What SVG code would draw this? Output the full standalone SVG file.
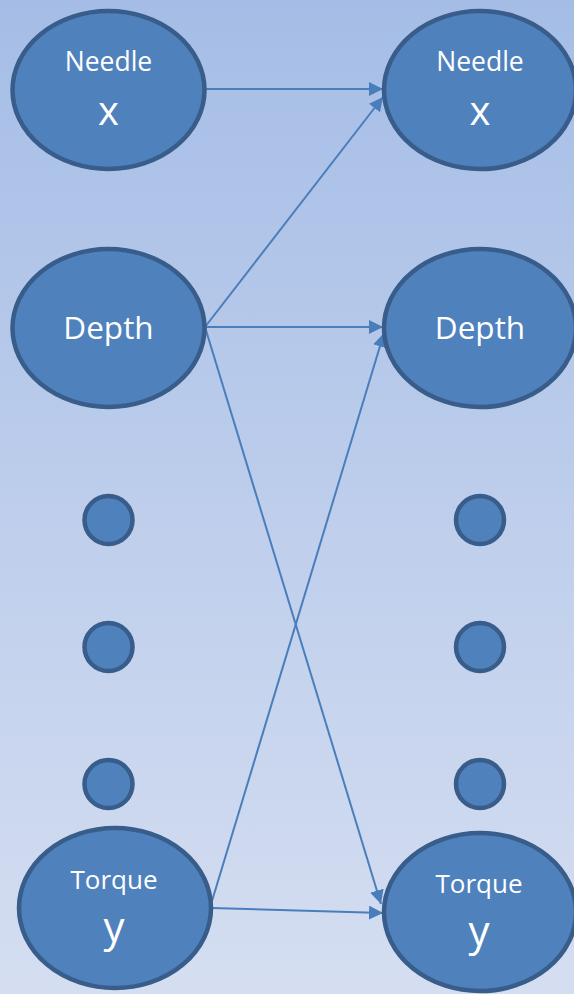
<svg xmlns="http://www.w3.org/2000/svg" width="574" height="994" viewBox="0 0 574 994">
<defs>
<linearGradient id="bg" x1="0" y1="0" x2="0" y2="1">
<stop offset="0" stop-color="#a5bde6"/>
<stop offset="1" stop-color="#d5def1"/>
</linearGradient>
<marker id="ah" viewBox="0 0 10 10" refX="10" refY="5" markerWidth="7" markerHeight="7" markerUnits="strokeWidth" orient="auto">
<path d="M0,0 L10,5 L0,10 Z" fill="#4a7ebb"/>
</marker>
</defs>
<style>
.n{fill:#4f81bd;stroke:#385d8a;stroke-width:4.5}
.t{fill:#fff;font-family:"Open Sans","Liberation Sans",sans-serif;text-anchor:middle}
.e{stroke:#4a7ebb;stroke-width:2;fill:none;marker-end:url(#ah)}
</style>
<rect width="574" height="994" fill="url(#bg)"/>
<g id="connectors">
<line class="e" x1="206" y1="89" x2="383" y2="89"/>
<line class="e" x1="205" y1="327" x2="383" y2="97"/>
<line class="e" x1="205" y1="327" x2="383" y2="327"/>
<line class="e" x1="205" y1="327" x2="381" y2="904"/>
<line class="e" x1="212" y1="901" x2="384" y2="333"/>
<line class="e" x1="212" y1="908" x2="383" y2="913"/>
</g>
<g id="needle-left"><ellipse class="n" cx="108.5" cy="90" rx="96" ry="79"/><text class="t" x="108.5" y="71" font-size="26.5">Needle</text><text class="t" x="108.5" y="125" font-size="40">x</text></g>
<g id="needle-right"><ellipse class="n" cx="480" cy="90" rx="96" ry="79"/><text class="t" x="480" y="71" font-size="26.5">Needle</text><text class="t" x="480" y="125" font-size="40">x</text></g>
<g id="depth-left"><ellipse class="n" cx="108.5" cy="328" rx="96" ry="79"/><text class="t" x="108.5" y="339" font-size="31.5">Depth</text></g>
<g id="depth-right"><ellipse class="n" cx="480" cy="328" rx="96" ry="79"/><text class="t" x="480" y="339" font-size="31.5">Depth</text></g>
<g id="dot-l1"><circle class="n" cx="108.5" cy="520" r="24"/></g>
<g id="dot-l2"><circle class="n" cx="108.5" cy="647" r="24"/></g>
<g id="dot-l3"><circle class="n" cx="108.5" cy="784" r="24"/></g>
<g id="dot-r1"><circle class="n" cx="480" cy="520" r="24"/></g>
<g id="dot-r2"><circle class="n" cx="480" cy="647" r="24"/></g>
<g id="dot-r3"><circle class="n" cx="480" cy="784" r="24"/></g>
<g id="torque-left"><ellipse class="n" cx="115" cy="908" rx="96" ry="80"/><text class="t" x="114" y="889" font-size="26">Torque</text><text class="t" x="114" y="942" font-size="42">y</text></g>
<g id="torque-right"><ellipse class="n" cx="480" cy="912" rx="96" ry="79"/><text class="t" x="479" y="893" font-size="26">Torque</text><text class="t" x="479" y="946" font-size="42">y</text></g>
</svg>
